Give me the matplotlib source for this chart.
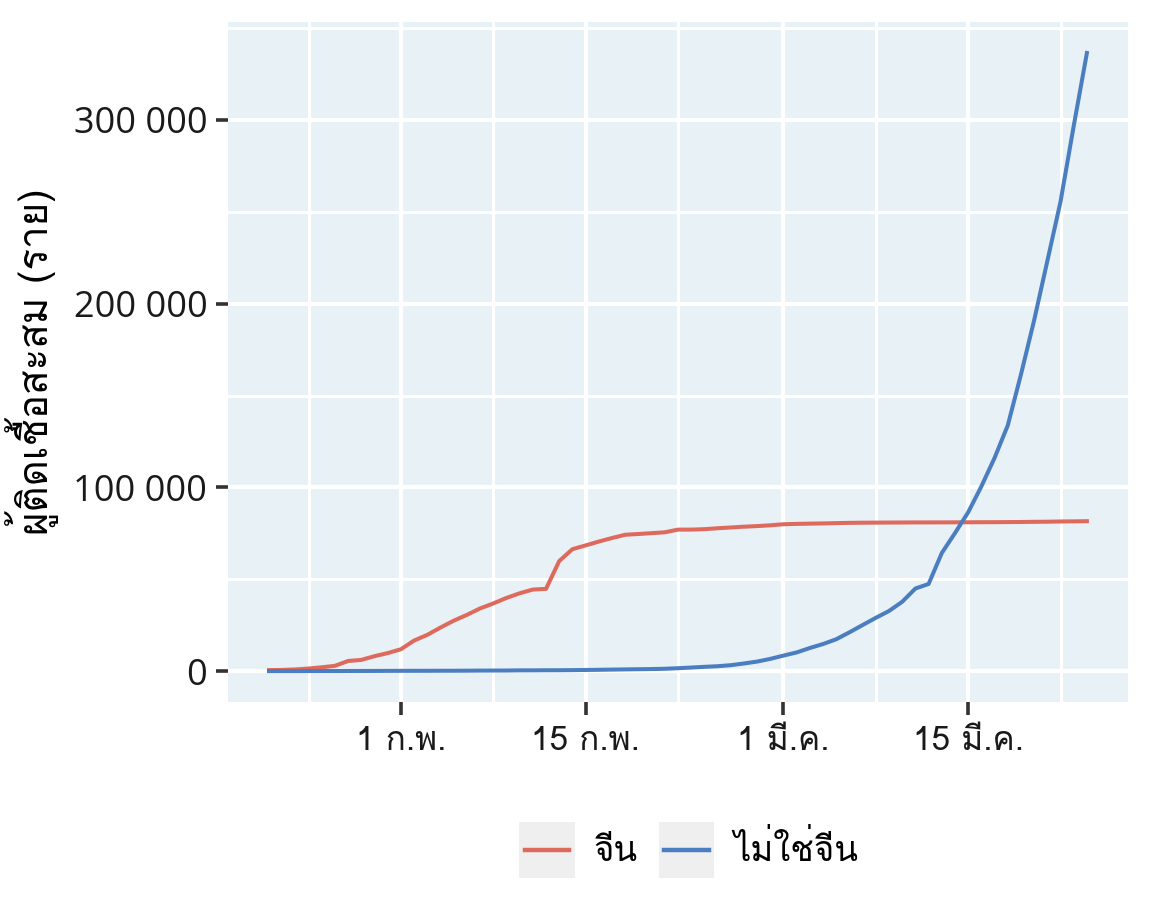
import numpy as np
import pandas as pd
import matplotlib
matplotlib.use("Agg")
import matplotlib.pyplot as plt
from matplotlib import font_manager
from matplotlib.ft2font import FT2Font
from matplotlib.lines import Line2D
from matplotlib.patches import Rectangle
from matplotlib.legend_handler import HandlerBase
from matplotlib.ticker import FuncFormatter, MultipleLocator

# cumulative confirmed cases, 22 Jan - 24 Mar 2020
dates = pd.date_range("2020-01-22", "2020-03-24", freq="D")
china = [548, 643, 920, 1406, 2075, 2877, 5509, 6087, 8141, 9802,
         11891, 16630, 19716, 23707, 27440, 30587, 34110, 36814, 39829, 42354,
         44386, 44759, 59895, 66358, 68413, 70513, 72434, 74211, 74619, 75077,
         75550, 77001, 77022, 77241, 77754, 78166, 78600, 78928, 79356, 79932,
         80136, 80261, 80386, 80537, 80690, 80770, 80823, 80860, 80887, 80921,
         80932, 80945, 80977, 81003, 81033, 81058, 81102, 81156, 81250, 81305,
         81435, 81498, 81591]
not_china = [7, 10, 21, 28, 43, 50, 69, 79, 93, 125,
             147, 157, 165, 185, 195, 230, 281, 306, 321, 408,
             416, 462, 473, 527, 617, 711, 824, 925, 1020, 1120,
             1269, 1571, 1936, 2320, 2652, 3222, 4146, 5184, 6655, 8437,
             10170, 12579, 14734, 17349, 21111, 25077, 28998, 32730, 37733, 44954,
             47420, 64260, 75124, 86451, 100541, 116044, 133719, 161414, 190958, 223202,
             255518, 296737, 336454]
labels = ["จีน", "ไม่ใช่จีน"]
colors = ["#DD6A5C", "#4A7EC0"]
ylabel = "ผู้ติดเชื้อสะสม (ราย)"
xticks = ["2020-02-01", "2020-02-15", "2020-03-01", "2020-03-15"]
xtick_labels = ["1 ก.พ.", "15 ก.พ.", "1 มี.ค.", "15 มี.ค."]
xminor = ["2020-01-25", "2020-02-08", "2020-02-22", "2020-03-08", "2020-03-22"]


def find_thai_fonts():
    names = []
    for f in font_manager.fontManager.ttflist:
        try:
            cmap = FT2Font(f.fname).get_charmap()
        except Exception:
            continue
        if 0x0E01 in cmap and f.name not in names:
            names.append(f.name)
    return names


class KeyHandler(HandlerBase):
    # grey key box with a shorter line inside, like ggplot
    def create_artists(self, legend, orig, xd, yd, w, h, fontsize, trans):
        box = Rectangle((-xd, -yd), w, h, facecolor="#EFEFEF",
                        edgecolor="none", transform=trans)
        y = -yd + h / 2
        ln = Line2D([-xd + 0.1 * w, -xd + 0.9 * w], [y, y],
                    color=orig.get_color(), lw=3.2, transform=trans)
        return [box, ln]


thai = find_thai_fonts()
plt.rcParams["font.family"] = thai + ["DejaVu Sans"]

fig = plt.figure(figsize=(11.52, 9.22), dpi=100)
ax = fig.add_axes([0.198, 0.2386, 0.781, 0.7375])
ax.set_facecolor("#E8F1F6")

lines = []
for vals, lab, col in zip([china, not_china], labels, colors):
    l, = ax.plot(dates, vals, color=col, lw=2.9, label=lab, zorder=3)
    lines.append(l)

# ggplot-like expansion
span = dates[-1] - dates[0]
ax.set_xlim(dates[0] - span * 0.05, dates[-1] + span * 0.05)
ymax = max(max(china), max(not_china))
ax.set_ylim(-ymax * 0.05, ymax * 1.05)

ax.set_xticks(pd.to_datetime(xticks))
ax.set_xticklabels(xtick_labels)
ax.set_xticks(list(pd.to_datetime(xminor)), minor=True)
ax.yaxis.set_major_locator(MultipleLocator(100000))
ax.yaxis.set_minor_locator(MultipleLocator(50000))
ax.yaxis.set_major_formatter(FuncFormatter(
    lambda v, p: f"{int(v):,}".replace(",", " ")))

ax.grid(which="major", color="white", lw=3.0)
ax.grid(which="minor", color="white", lw=2.2)
ax.set_axisbelow(True)
for s in ax.spines.values():
    s.set_visible(False)
ax.tick_params(axis="both", which="major", length=9, width=2.6,
               color="#333333", labelcolor="#1a1a1a")
ax.tick_params(axis="x", which="major", labelsize=24, pad=8)
ax.tick_params(axis="y", which="major", pad=6)
ax.tick_params(axis="both", which="minor", length=0)
for t in ax.get_yticklabels():
    t.set_fontfamily(["Open Sans", "DejaVu Sans"])
    t.set_fontsize(26)

ax.set_ylabel(ylabel, fontsize=29, color="black", labelpad=10)

leg = fig.legend(lines, labels, loc="center", bbox_to_anchor=(0.598, 0.078),
                 ncol=2, frameon=False, fontsize=25, handlelength=1.6,
                 handleheight=2.1, columnspacing=0.6, handletextpad=0.55,
                 handler_map={Line2D: KeyHandler()})

fig.savefig("out.png", dpi=100, facecolor="white")
